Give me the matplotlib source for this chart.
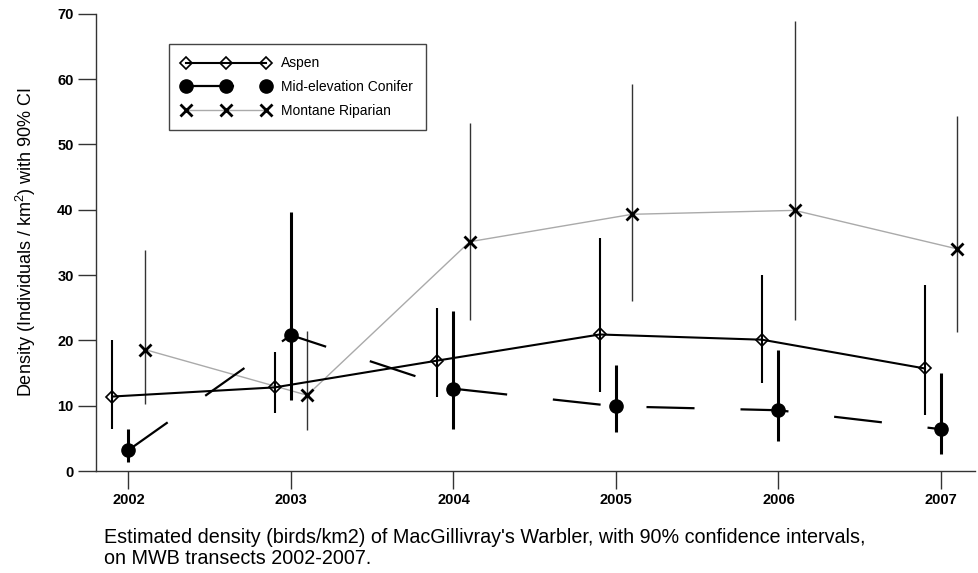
import numpy as np
import matplotlib
matplotlib.use("Agg")
import matplotlib.pyplot as plt

plt.rcParams['font.family'] = ['Liberation Sans', 'DejaVu Sans']
plt.rcParams['mathtext.default'] = 'regular'
plt.rcParams['lines.scale_dashes'] = False

years = [2002, 2003, 2004, 2005, 2006, 2007]

aspen = [11.4, 12.8, 16.9, 20.9, 20.1, 15.7]
aspen_lo = [6.4, 8.9, 11.4, 12.1, 13.4, 8.6]
aspen_hi = [20.0, 18.2, 25.0, 35.7, 30.0, 28.4]

conifer = [3.2, 20.8, 12.6, 9.9, 9.3, 6.4]
conifer_lo = [1.4, 10.8, 6.5, 5.9, 4.6, 2.6]
conifer_hi = [6.5, 39.6, 24.5, 16.2, 18.5, 15.0]

riparian = [18.6, 11.6, 35.1, 39.3, 39.9, 34.0]
riparian_lo = [10.3, 6.3, 23.1, 26.1, 23.1, 21.3]
riparian_hi = [33.9, 21.4, 53.2, 59.2, 68.9, 54.4]

x = np.array(years, dtype=float)
xa = x - 0.1
xr = x + 0.1

fig = plt.figure(figsize=(9.79, 5.73), dpi=100)
ax = fig.add_axes([0.098, 0.178, 0.898, 0.798])

# confidence intervals
ax.vlines(xr, riparian_lo, riparian_hi, color='#333333', lw=1.0, zorder=2)
ax.vlines(xa, aspen_lo, aspen_hi, color='black', lw=1.5, zorder=3)
ax.vlines(x, conifer_lo, conifer_hi, color='black', lw=2.2, zorder=3)

# series
ax.plot(xr, riparian, color='#aaaaaa', lw=1.0, marker='x', ms=8, mec='black',
        mew=2, label='Montane Riparian', zorder=2)
ax.plot(xa, aspen, color='black', lw=1.5, marker='D', ms=6, mfc='none',
        mec='black', mew=1.2, label='Aspen', zorder=4)
ln, = ax.plot(x, conifer, color='black', lw=1.6, marker='o', ms=9.5,
              label='Mid-elevation Conifer', zorder=4)
ln.set_dashes((34.6, 33.1))

ax.set_xlim(2001.80, 2007.21)
ax.set_ylim(0, 70)
ax.set_xticks(years)
ax.set_yticks(range(0, 71, 10))
ax.tick_params(length=13, width=1, color='#333333', labelsize=10.5, pad=3)
for lab in ax.get_xticklabels() + ax.get_yticklabels():
    lab.set_fontweight('bold')
for s in ['top', 'right']:
    ax.spines[s].set_visible(False)
for s in ['left', 'bottom']:
    ax.spines[s].set_color('#333333')
    ax.spines[s].set_linewidth(1)

ax.set_ylabel('Density (Individuals / km$^2$) with 90% CI', fontsize=13, labelpad=14)

h, l = ax.get_legend_handles_labels()
order = [1, 2, 0]
leg = ax.legend([h[i] for i in order], [l[i] for i in order], loc='upper left',
                bbox_to_anchor=(0.083, 0.934), numpoints=3, handlelength=6.4,
                fontsize=10, fancybox=False, edgecolor='#444444', framealpha=1,
                borderpad=0.9, labelspacing=0.7, handletextpad=0.8,
                borderaxespad=0)
leg.get_frame().set_linewidth(1)

fig.text(104 / 979, 1 - 548 / 573,
         "Estimated density (birds/km2) of MacGillivray's Warbler, with 90% confidence intervals,\n"
         "on MWB transects 2002-2007.", fontsize=14.2, ha='left', va='center',
         linespacing=1.1)

fig.savefig('out.png', dpi=100)
